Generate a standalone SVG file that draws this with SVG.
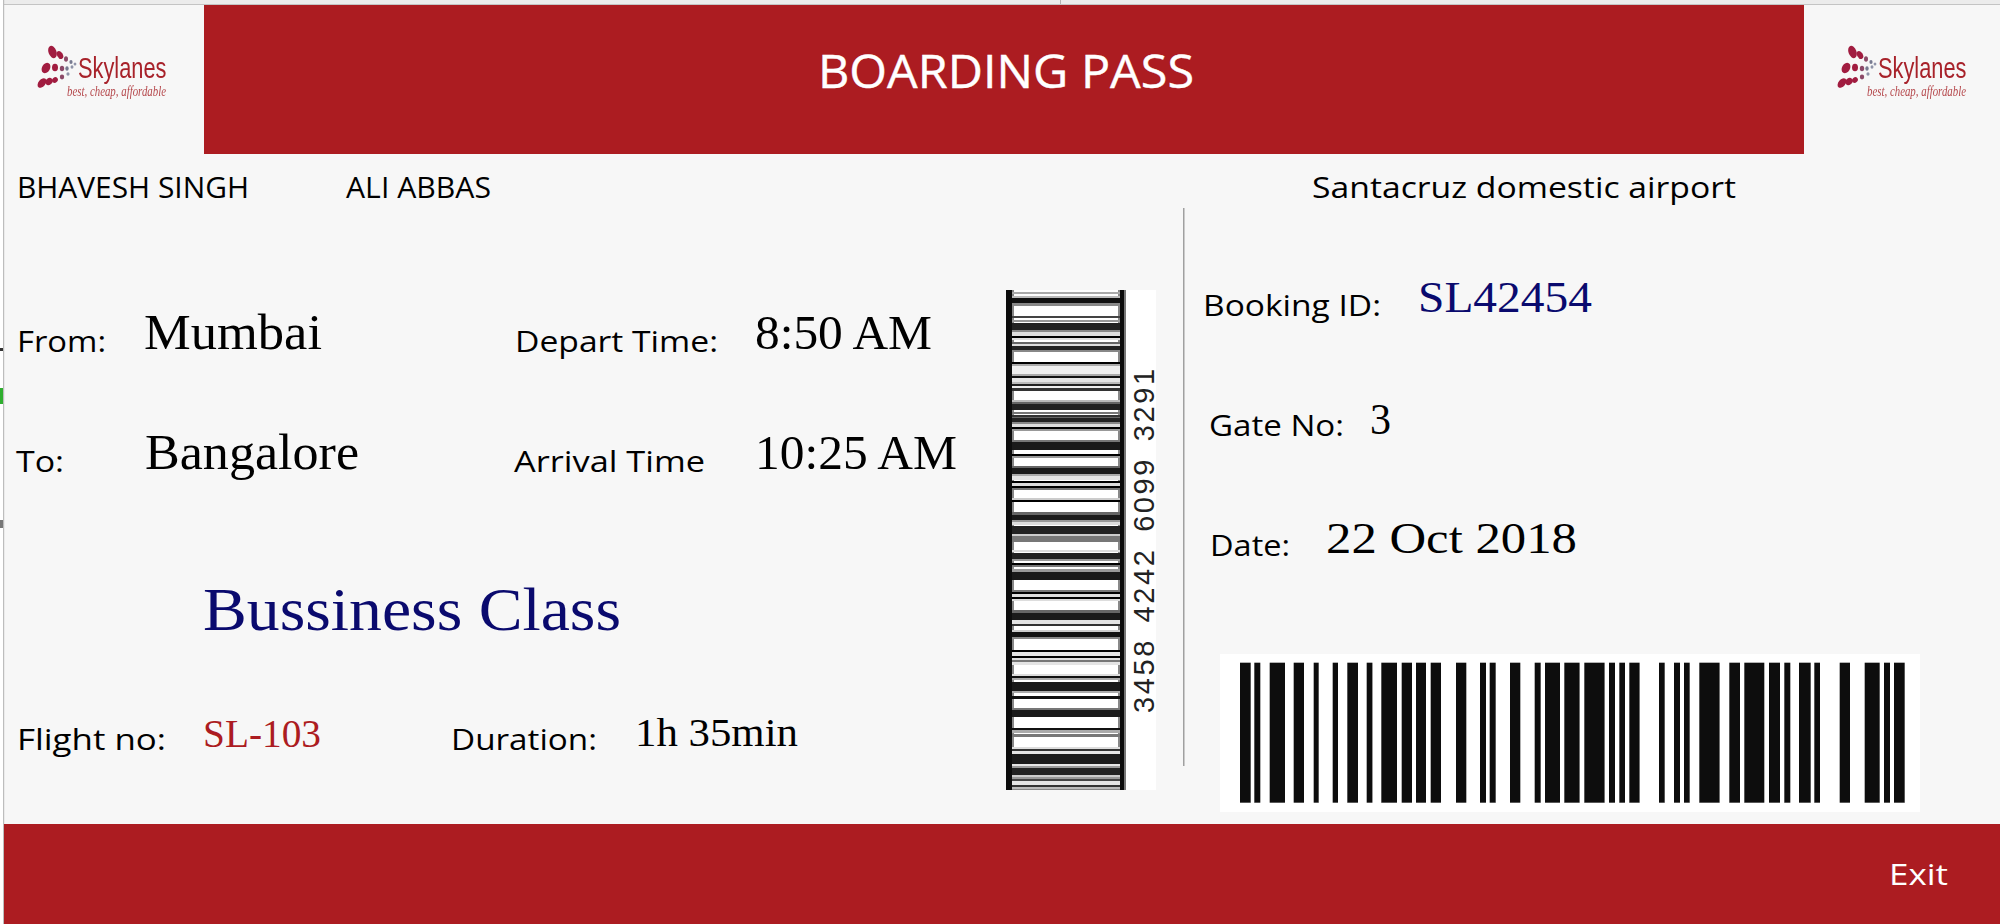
<svg xmlns="http://www.w3.org/2000/svg" width="2000" height="924" viewBox="0 0 2000 924">
<style>
.lb{font-family:"Open Sans","DejaVu Sans",sans-serif;fill:#000;font-size:30px}
.val{font-family:"Liberation Serif",serif;fill:#000;font-size:48px}
.red{fill:#ac1c21}
.navy{fill:#0a0a6e}
.sky{font-family:"Liberation Sans",sans-serif;fill:#a8242c;font-size:29px}
.tag{font-family:"Liberation Serif",serif;font-style:italic;fill:#b5484c;font-size:15px}
.hb rect{y:662.7px;height:140px;fill:#0c0c0c}
.vb rect{x:1012px;width:108px}
</style>
<defs>
<filter id="soft" x="-2%" y="-2%" width="104%" height="104%"><feGaussianBlur stdDeviation="0.7"/></filter>
<filter id="logoblur" x="-5%" y="-5%" width="110%" height="110%"><feGaussianBlur stdDeviation="0.45"/></filter>
<g id="dots">
<ellipse cx="52.5" cy="52" rx="4" ry="6.500" transform="rotate(-20 52.5 52)" fill="#a11c3f"/>
<ellipse cx="60" cy="55" rx="2.800" ry="4.300" transform="rotate(-30 60 55)" fill="#a11c3f"/>
<ellipse cx="66" cy="59" rx="2" ry="2.800" fill="#8c4a68"/>
<ellipse cx="71" cy="62" rx="1.600" ry="2" fill="#777a90"/>
<ellipse cx="75" cy="64" rx="1.400" ry="1.500" fill="#8f93a8"/>
<ellipse cx="46" cy="68" rx="4" ry="5.500" transform="rotate(30 46 68)" fill="#a11c3f"/>
<ellipse cx="55" cy="67.500" rx="3" ry="3.800" fill="#a11c3f"/>
<ellipse cx="62" cy="68.500" rx="2.200" ry="2.800" fill="#8c4a68"/>
<ellipse cx="67" cy="68.500" rx="1.700" ry="2.200" fill="#777a90"/>
<ellipse cx="72" cy="67" rx="1.500" ry="1.700" fill="#8f93a8"/>
<ellipse cx="42" cy="83" rx="3.500" ry="5.500" transform="rotate(40 42 83)" fill="#a11c3f"/>
<ellipse cx="49" cy="81.500" rx="3.200" ry="4" transform="rotate(50 49 81.5)" fill="#a11c3f"/>
<ellipse cx="55" cy="80" rx="2.600" ry="3" transform="rotate(50 55 80)" fill="#a11c3f"/>
<ellipse cx="62" cy="77" rx="2.200" ry="2.400" fill="#8c4a68"/>
<ellipse cx="68" cy="74" rx="1.600" ry="1.700" fill="#8f93a8"/>
</g>
</defs>
<rect width="2000" height="924" fill="#f7f7f7"/>
<g id="window-edge">
<rect x="0" y="0" width="2000" height="4" fill="#ececec"/>
<rect x="0" y="4" width="2000" height="1" fill="#c4c4c4"/>
<rect x="1060" y="0" width="1" height="4" fill="#b4b4b4"/>
<rect x="0" y="0" width="3" height="924" fill="#ffffff"/>
<rect x="3" y="0" width="1.200" height="924" fill="#bdbdbd"/>
<rect x="0" y="388" width="3" height="16" fill="#2fae2f"/>
<rect x="0" y="348" width="3" height="3" fill="#333"/>
<rect x="0" y="520" width="3" height="8" fill="#777"/>
</g>
<g id="header">
<rect class="red" x="204" y="5" width="1600" height="149"/>
<text x="818" y="88" style="font-family:'Open Sans','DejaVu Sans',sans-serif;font-size:45px;fill:#fff;stroke:#fff;stroke-width:.4" textLength="376" lengthAdjust="spacingAndGlyphs">BOARDING PASS</text>
</g>
<g id="logo-left" filter="url(#logoblur)">
<use href="#dots"/>
<text class="sky" x="78" y="78" textLength="88.500" lengthAdjust="spacingAndGlyphs">Skylanes</text>
<text class="tag" x="67" y="96" textLength="99" lengthAdjust="spacingAndGlyphs">best, cheap, affordable</text>
</g>
<g id="logo-right" filter="url(#logoblur)">
<use href="#dots" x="1800"/>
<text class="sky" x="1878" y="78" textLength="88.500" lengthAdjust="spacingAndGlyphs">Skylanes</text>
<text class="tag" x="1867" y="96" textLength="99" lengthAdjust="spacingAndGlyphs">best, cheap, affordable</text>
</g>
<g id="passengers">
<text class="lb" x="17" y="198" textLength="232" lengthAdjust="spacingAndGlyphs">BHAVESH SINGH</text>
<text class="lb" x="346" y="198" textLength="145" lengthAdjust="spacingAndGlyphs">ALI ABBAS</text>
<text class="lb" x="1312" y="198" textLength="424" lengthAdjust="spacingAndGlyphs">Santacruz domestic airport</text>
</g>
<g id="route">
<text class="lb" x="17" y="352" textLength="89" lengthAdjust="spacingAndGlyphs">From:</text>
<text class="val" style="font-size:51px" x="144" y="349" textLength="178" lengthAdjust="spacingAndGlyphs">Mumbai</text>
<text class="lb" x="16" y="472" textLength="48" lengthAdjust="spacingAndGlyphs">To:</text>
<text class="val" style="font-size:51px" x="145" y="469" textLength="214" lengthAdjust="spacingAndGlyphs">Bangalore</text>
<text class="lb" x="515" y="352" textLength="203" lengthAdjust="spacingAndGlyphs">Depart Time:</text>
<text class="val" x="755" y="349" textLength="177" lengthAdjust="spacingAndGlyphs">8:50 AM</text>
<text class="lb" x="514" y="472" textLength="191" lengthAdjust="spacingAndGlyphs">Arrival Time</text>
<text class="val" x="755" y="469" textLength="202" lengthAdjust="spacingAndGlyphs">10:25 AM</text>
</g>
<g id="flight">
<text class="val navy" style="font-size:62px" x="203" y="630" textLength="418" lengthAdjust="spacingAndGlyphs">Bussiness Class</text>
<text class="lb" x="17" y="750" textLength="149" lengthAdjust="spacingAndGlyphs">Flight no:</text>
<text class="val" style="font-size:40px;fill:#ac1c21" x="203" y="747" textLength="118" lengthAdjust="spacingAndGlyphs">SL-103</text>
<text class="lb" x="451" y="750" textLength="146" lengthAdjust="spacingAndGlyphs">Duration:</text>
<text class="val" style="font-size:40px" x="635" y="746" textLength="163" lengthAdjust="spacingAndGlyphs">1h 35min</text>
</g>
<g id="barcode-vertical">
<rect x="1006" y="290" width="150" height="500" fill="#fff"/>
<rect x="1012" y="290" width="2" height="500" fill="#888"/>
<rect x="1118" y="290" width="2" height="500" fill="#888"/>
<g class="vb">
<rect y="292" height="2" fill="#aaa"/><rect y="296" height="2" fill="#bbb"/><rect y="298" height="5" fill="#111"/><rect y="303" height="3" fill="#888"/><rect y="316" height="2" fill="#444"/><rect y="320" height="2" fill="#999"/><rect y="323" height="7" fill="#222"/><rect y="330" height="2" fill="#888"/><rect y="332" height="4" fill="#ddd"/><rect y="336" height="2" fill="#000"/><rect y="338" height="2" fill="#ddd"/><rect y="342" height="2" fill="#666"/><rect y="344" height="2" fill="#ddd"/><rect y="346" height="4" fill="#222"/><rect y="350" height="2" fill="#888"/><rect y="362" height="2" fill="#000"/><rect y="364" height="2" fill="#aaa"/><rect y="366" height="8" fill="#eee"/><rect y="374" height="2" fill="#aaa"/><rect y="376" height="2" fill="#111"/><rect y="378" height="4" fill="#e4e4e4"/><rect y="382" height="2" fill="#bbb"/><rect y="384" height="2" fill="#222"/><rect y="386" height="2" fill="#eee"/><rect y="388" height="3" fill="#333"/><rect y="400" height="2" fill="#bbb"/><rect y="402" height="2" fill="#666"/><rect y="404" height="6" fill="#222"/><rect y="412" height="2" fill="#777"/>
<rect y="415" height="2" fill="#333"/><rect y="417" height="1" fill="#666"/><rect y="418" height="4" fill="#222"/><rect y="422" height="2" fill="#888"/><rect y="424" height="3" fill="#ddd"/><rect y="427" height="2" fill="#000"/><rect y="429" height="2" fill="#999"/><rect y="440" height="2" fill="#777"/><rect y="442" height="8" fill="#1a1a1a"/><rect y="454" height="2" fill="#000"/><rect y="456" height="2" fill="#999"/><rect y="466" height="2" fill="#666"/><rect y="468" height="6" fill="#1a1a1a"/><rect y="474" height="2" fill="#aaa"/><rect y="476" height="4" fill="#e4e4e4"/><rect y="481" height="2" fill="#000"/><rect y="483" height="3" fill="#ddd"/><rect y="486" height="2" fill="#000"/><rect y="488" height="2" fill="#777"/><rect y="498" height="2" fill="#ccc"/><rect y="500" height="2" fill="#000"/><rect y="512" height="3" fill="#666"/><rect y="515" height="5" fill="#1a1a1a"/><rect y="520" height="2" fill="#999"/><rect y="522" height="3" fill="#ddd"/><rect y="526" height="8" fill="#222"/><rect y="534" height="2" fill="#ccc"/><rect y="536" height="6" fill="#777"/>
<rect y="550" height="2" fill="#ddd"/><rect y="553" height="6" fill="#222"/><rect y="559" height="2" fill="#999"/><rect y="563" height="2" fill="#000"/><rect y="565" height="2" fill="#777"/><rect y="569" height="3" fill="#999"/><rect y="572" height="8" fill="#1a1a1a"/><rect y="590" height="2" fill="#777"/><rect y="592" height="2" fill="#000"/><rect y="594" height="3" fill="#ddd"/><rect y="597" height="2" fill="#000"/><rect y="599" height="2" fill="#ddd"/><rect y="610" height="3" fill="#666"/><rect y="613" height="7" fill="#1a1a1a"/><rect y="620" height="4" fill="#e4e4e4"/><rect y="624" height="2" fill="#333"/><rect y="630" height="2" fill="#ccc"/><rect y="632" height="5" fill="#111"/><rect y="637" height="2" fill="#888"/><rect y="650" height="2" fill="#000"/><rect y="652" height="4" fill="#e4e4e4"/><rect y="656" height="2" fill="#000"/><rect y="658" height="2" fill="#ddd"/><rect y="660" height="2" fill="#777"/><rect y="662" height="3" fill="#e4e4e4"/>
<rect y="674" height="2" fill="#ddd"/><rect y="676" height="2" fill="#111"/><rect y="678" height="2" fill="#aaa"/><rect y="682" height="9" fill="#1a1a1a"/><rect y="691" height="2" fill="#aaa"/><rect y="696" height="3" fill="#111"/><rect y="708" height="2" fill="#777"/><rect y="710" height="7" fill="#1a1a1a"/><rect y="728" height="2" fill="#111"/><rect y="730" height="3" fill="#aaa"/><rect y="734" height="3" fill="#777"/><rect y="747" height="2" fill="#ddd"/><rect y="749" height="2" fill="#333"/><rect y="751" height="3" fill="#e4e4e4"/><rect y="754" height="10" fill="#1a1a1a"/><rect y="764" height="2" fill="#e4e4e4"/><rect y="766" height="2" fill="#999"/><rect y="768" height="7" fill="#222"/><rect y="775" height="2" fill="#ccc"/><rect y="777" height="2" fill="#999"/><rect y="779" height="2" fill="#444"/><rect y="781" height="4" fill="#e4e4e4"/><rect y="785" height="2" fill="#333"/><rect y="787" height="2" fill="#bbb"/><rect y="789" height="1" fill="#888"/>
</g>
<rect x="1006" y="290" width="6" height="500" fill="#0c0c0c"/>
<rect x="1120" y="290" width="4" height="500" fill="#0c0c0c"/>
<rect x="1124" y="290" width="2" height="500" fill="#777"/>
<text transform="translate(1154 713) rotate(-90)" style="font-family:'Liberation Sans',sans-serif;font-size:29px;fill:#222;letter-spacing:2.6px;word-spacing:5px">3458 4242 6099 3291</text>
</g>
<rect id="divider" x="1183" y="208" width="1.500" height="558" fill="#a0a0a0"/>
<g id="booking">
<text class="lb" x="1203" y="316" textLength="178" lengthAdjust="spacingAndGlyphs">Booking ID:</text>
<text class="val navy" style="font-size:45px" x="1418" y="312" textLength="174" lengthAdjust="spacingAndGlyphs">SL42454</text>
<text class="lb" x="1209" y="436" textLength="135" lengthAdjust="spacingAndGlyphs">Gate No:</text>
<text class="val" style="font-size:45px" x="1370" y="434" textLength="21" lengthAdjust="spacingAndGlyphs">3</text>
<text class="lb" x="1210" y="556" textLength="80" lengthAdjust="spacingAndGlyphs">Date:</text>
<text class="val" style="font-size:45px" x="1326" y="553" textLength="251" lengthAdjust="spacingAndGlyphs">22 Oct 2018</text>
</g>
<g id="barcode-horizontal">
<rect x="1220" y="654" width="700" height="158" fill="#fff"/>
<g class="hb" filter="url(#soft)">
<rect x="1240" width="10.700"/><rect x="1254.300" width="6"/><rect x="1269.700" width="15.300"/><rect x="1293.700" width="10.300"/><rect x="1313.700" width="5"/><rect x="1332.700" width="5.300"/><rect x="1347.300" width="10.700"/><rect x="1366.700" width="5.700"/><rect x="1381.300" width="15.700"/><rect x="1401.700" width="10.300"/><rect x="1416" width="10"/><rect x="1430.700" width="10.300"/><rect x="1456" width="10.300"/><rect x="1480" width="6"/><rect x="1489.700" width="6"/><rect x="1510" width="10.300"/><rect x="1534.700" width="6"/><rect x="1545" width="15"/><rect x="1564.300" width="15.300"/><rect x="1584.300" width="20.300"/><rect x="1609" width="6"/><rect x="1619.300" width="5.700"/><rect x="1629.300" width="10.300"/><rect x="1659" width="5.700"/><rect x="1674" width="6"/><rect x="1684" width="5.700"/><rect x="1699.300" width="20.300"/><rect x="1729.300" width="10.700"/><rect x="1744.300" width="20"/><rect x="1769" width="11"/><rect x="1784.300" width="6"/><rect x="1799" width="11.700"/><rect x="1814.300" width="5.700"/><rect x="1839.700" width="10.300"/><rect x="1864.700" width="15"/><rect x="1884" width="6"/><rect x="1894" width="10.700"/>
</g>
</g>
<g id="footer">
<rect class="red" x="4" y="824" width="1996" height="100"/>
<text x="1889" y="885" style="font-family:'Open Sans','DejaVu Sans',sans-serif;font-size:30px;fill:#fff" textLength="59" lengthAdjust="spacingAndGlyphs">Exit</text>
</g>
</svg>
